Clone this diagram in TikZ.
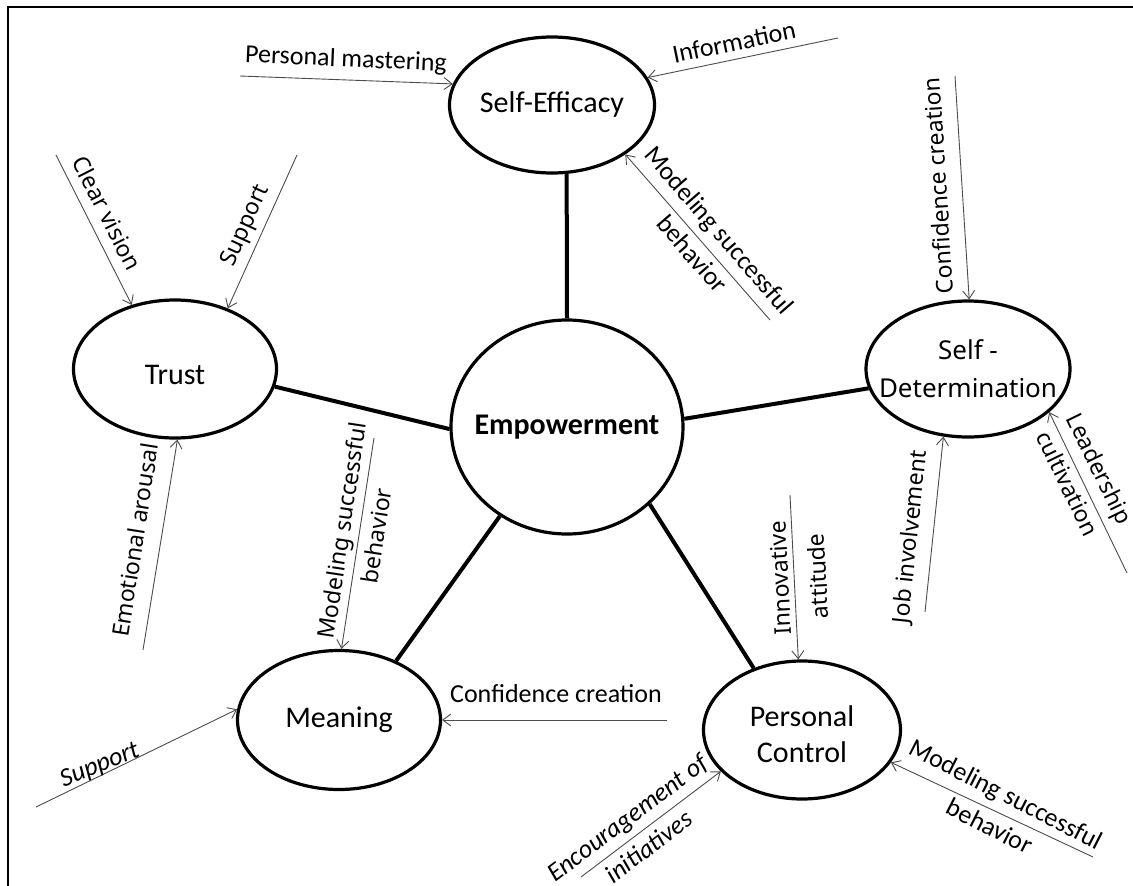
\documentclass[tikz,border=0pt]{standalone}
\usepackage{fontspec}
\setmainfont{Carlito}
\newfontfamily\wide{Noto Sans}
\usetikzlibrary{shapes.geometric,arrows.meta}
\begin{document}
\begin{tikzpicture}[x=1pt,y=-1pt,
  bub/.style={draw, ellipse, line width=3.2pt, inner sep=0pt},
  ntxt/.style={font=\fontsize{30}{36}\selectfont, align=center, inner sep=0pt},
  link/.style={line width=4pt},
  feed/.style={draw=black!70, line width=0.9pt, -{Straight Barb[length=8pt,width=12pt]}},
  lab/.style={font=\fontsize{26}{36}\selectfont, align=center, inner sep=0pt},
  ilab/.style={font=\itshape\fontsize{26}{36}\selectfont, align=center, inner sep=0pt},
  wlab/.style={font=\wide\fontsize{23}{35}\selectfont, align=center, inner sep=0pt},
]
\fill[white] (0,0) rectangle (1133,886);
\useasboundingbox (0,0) rectangle (1133,886);
\draw[line width=2.5pt] (8,886) -- (8,7) -- (1133,7);

% main nodes (shapes)
\node[bub, minimum width=232pt, minimum height=214pt] (emp) at (567,427) {};
\node[bub, minimum width=205pt, minimum height=136pt] (se) at (552,105) {};
\node[bub, minimum width=203pt, minimum height=138pt] (trust) at (175,369) {};
\node[bub, minimum width=204pt, minimum height=136pt] (sd) at (968,369) {};
\node[bub, minimum width=203pt, minimum height=139pt] (mean) at (339,720) {};
\node[bub, minimum width=197pt, minimum height=138pt] (pc) at (802,730) {};

% main node texts
\node[ntxt] (empt) at (emp) {\bfseries Empowerment};
\node[ntxt] (set) at (se) {Self-Efficacy};
\node[ntxt] (trustt) at ([yshift=-6pt]trust.center) {Trust};
\node[ntxt, font=\wide\fontsize{26}{38}\selectfont] (sdt) at (sd) {Self -\\Determination};
\node[ntxt] (meant) at (mean) {Meaning};
\node[ntxt] (pct) at ([yshift=-4pt]pc.center) {Personal\\Control};

% thick links
\draw[link] (se.-78) -- (emp.north);
\draw[link] (trust.-10) -- (emp.181);
\draw[link] (mean.46) -- (emp.233);
\draw[link] (pc.128) -- (emp.-43);
\draw[link] (emp.4) -- (sd.191);

% free ends of feeding arrows
\coordinate (c1) at (240,76);
\coordinate (c2) at (838,38);
\coordinate (c3) at (770,320);
\coordinate (c4) at (56,155);
\coordinate (c5) at (297,155);
\coordinate (c6) at (143,650);
\coordinate (c7) at (374,438);
\coordinate (c8) at (36,807);
\coordinate (c9) at (667,720);
\coordinate (c10) at (790,495);
\coordinate (c11) at (925,612);
\coordinate (c12) at (1127,573);
\coordinate (c13) at (955,76);
\coordinate (c14) at (581,877);
\coordinate (c15) at (1093,857);

\draw[feed] (c1) -- (se.168);
\draw[feed] (c2) -- (se.16);
\draw[feed] (c3) -- (se.-34);
\draw[feed] (c4) -- (trust.124);
\draw[feed] (c5) -- (trust.49);
\draw[feed] (c6) -- (trust.-88);
\draw[feed] (c7) -- (mean.88);
\draw[feed] (c8) -- (mean.174);
\draw[feed] (c9) -- (mean.east);
\draw[feed] (c10) -- (pc.93);
\draw[feed] (c14) -- (pc.207);
\draw[feed] (c15) -- (pc.-20);
\draw[feed] (c13) -- (sd.89);
\draw[feed] (c11) -- (sd.250);
\draw[feed] (c12) -- (sd.-28);

% labels
\node[lab, rotate=-2.5] (l1) at (346,60) {Personal mastering};
\node[lab, rotate=11.6] (l2) at (734,42) {Information};
\node[lab, rotate=-49] (l3) at (706,242) {Modeling successful\\behavior};
\node[wlab, rotate=-63] (l4) at (107,213) {Clear vision};
\node[wlab, rotate=65.7] (l5) at (246,226) {Support};
\node[wlab, rotate=81] (l6) at (135,540) {Emotional arousal};
\node[wlab, rotate=81.4] (l7) at (359,533) {Modeling successful\\behavior};
\node[ilab, rotate=22] (l8) at (100,766) {Support};
\node[lab] (l9) at (556,694) {Confidence creation};
\node[wlab, rotate=93, font=\wide\fontsize{23}{38}\selectfont] (l10) at (799,577) {Innovative\\attitude};
\node[wlab, rotate=84] (l11) at (911,537) {Job involvement};
\node[wlab, rotate=-64] (l12) at (1084,476) {Leadership\\cultivation};
\node[wlab, rotate=93.6] (l13) at (938,186) {Confidence creation};
\node[ilab, rotate=37] (l14) at (638,832) {Encouragement of\\initiatives};
\node[lab, rotate=-27] (l15) at (998,810) {Modeling successful\\behavior};
\end{tikzpicture}
\end{document}
